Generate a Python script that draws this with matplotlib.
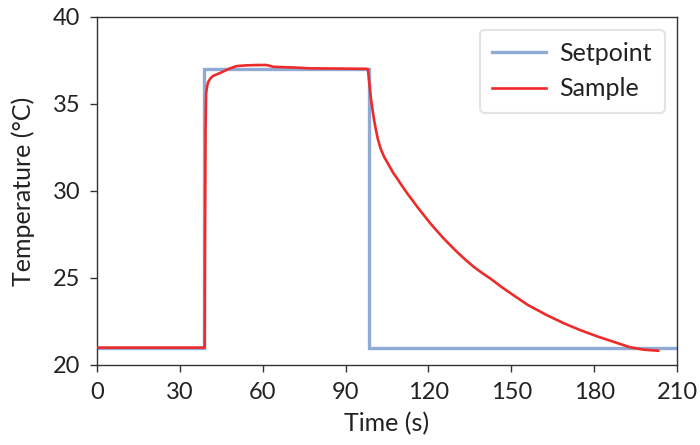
import matplotlib
matplotlib.use("Agg")
import matplotlib.pyplot as plt

# Setpoint (step profile)
setpoint_time = [0, 38.7, 38.7, 98.6, 98.6, 210]
setpoint_temp = [21.0, 21.0, 37.0, 37.0, 21.0, 21.0]

# Measured sample temperature
sample_time = [0, 39.0, 39.1, 39.3, 39.5, 39.9, 40.3, 41.2, 42.1, 43.3, 44.5, 46.3, 48.2,
               50.6, 54.0, 58.0, 61.4, 63.8, 67.0, 71.0, 77.0, 84.0, 91.0, 97.6,
               98.1, 98.4, 98.8, 99.2, 99.7, 100.3, 100.9, 101.7, 102.7, 104.0,
               105.7, 107.1, 108.7, 110.5, 112.4, 114.2, 116.0, 118.4, 120.8, 123.2,
               125.6, 128.0, 130.4, 133.4, 136.5, 139.5, 142.5, 146.5, 150.7, 156.0,
               162.8, 169.0, 174.9, 181.0, 186.9, 193.0, 198.0, 203.2]
sample_temp = [21.0, 21.0, 27.0, 33.5, 35.6, 36.05, 36.28, 36.5, 36.62, 36.70, 36.78, 36.91, 37.05,
               37.18, 37.22, 37.24, 37.24, 37.14, 37.12, 37.10, 37.05, 37.04, 37.03, 37.02,
               36.99, 36.5, 35.88, 35.3, 34.73, 34.1, 33.58, 32.98, 32.43, 31.95,
               31.48, 31.08, 30.71, 30.28, 29.85, 29.47, 29.08, 28.6, 28.12, 27.68,
               27.26, 26.87, 26.49, 26.05, 25.63, 25.28, 24.96, 24.48, 24.02, 23.45,
               22.87, 22.4, 22.01, 21.65, 21.34, 21.02, 20.88, 20.82]

xticks = [0, 30, 60, 90, 120, 150, 180, 210]
yticks = [20, 25, 30, 35, 40]

plt.rcParams['font.family'] = ['Lato', 'DejaVu Sans']
text_color = '#222222'

fig = plt.figure(figsize=(7.0, 4.45), dpi=100)
ax = fig.add_axes([97/700, 1 - 365/445, (677-97)/700, (365-17)/445])

ax.plot(setpoint_time, setpoint_temp, color='#8FAAD5', lw=2.4, label='Setpoint',
        solid_joinstyle='miter', zorder=2)
ax.plot(sample_time, sample_temp, color='#EE2B2B', lw=1.9, label='Sample', zorder=3,
        solid_joinstyle='round')

ax.set_xlim(0, 210)
ax.set_ylim(20, 40)
ax.set_xticks(xticks)
ax.set_yticks(yticks)
ax.tick_params(axis='both', which='both', direction='out', length=5, width=1,
               labelsize=17, colors='#333333', labelcolor=text_color, pad=7)
ax.tick_params(top=False, right=False)
for s in ax.spines.values():
    s.set_color('#333333')
    s.set_linewidth(1.0)

ax.set_xlabel('Time (s)', fontsize=18, color=text_color, labelpad=7)
ax.set_ylabel('Temperature (°C)', fontsize=18, color=text_color, labelpad=13)

leg = ax.legend(loc='upper right', fontsize=18, frameon=True, fancybox=True,
                handlelength=2.15, handletextpad=0.55, borderpad=0.5,
                labelspacing=0.5, borderaxespad=0.5)
leg.get_frame().set_edgecolor('#DDDDDD')
leg.get_frame().set_linewidth(1.5)
for t in leg.get_texts():
    t.set_color(text_color)

fig.savefig('out.png', dpi=100)
